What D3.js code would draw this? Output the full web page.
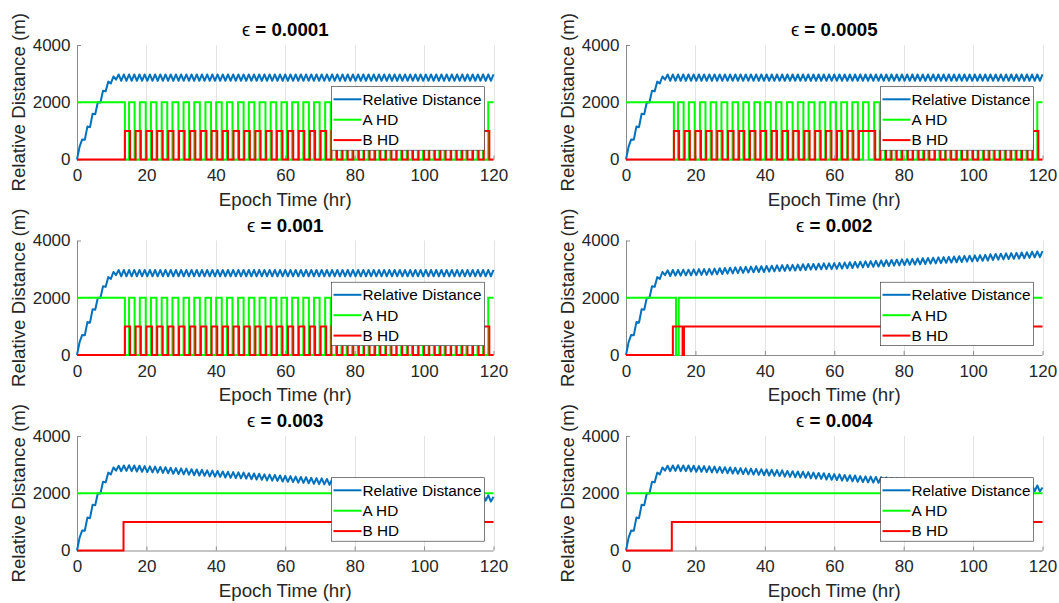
<!DOCTYPE html>
<html lang="en">
<head>
	<meta charset="UTF-8"/>
	<title>Relative Distance vs Epoch Time</title>
	<script src="https://d3js.org/d3.v7.min.js"></script>
	<style>
		body { margin: 0; background: #fff; }
		svg { font-family: "Liberation Sans", Arial, Helvetica, sans-serif; }
		.axis .domain { stroke: #8c8c8c; }
		.axis .tick line { stroke: #8c8c8c; }
		.axis .tick text { fill: #262626; font-size: 17px; }
		.grid { stroke: #e4e4e4; stroke-width: 1; }
		.lbl { fill: #262626; font-size: 18.7px; }
		.ttl { fill: #000; font-size: 18.7px; font-weight: bold; }
		.leg text { fill: #000; font-size: 15.3px; }
	</style>
</head>
<body>
<div id="chart"></div>
<script>
// ---- data ----
var epsLabels = ["0.0001", "0.0005", "0.001", "0.002", "0.003", "0.004"];
var xTicks = [0, 20, 40, 60, 80, 100, 120];
var yTicks = [0, 2000, 4000];
var seriesNames = ["Relative Distance", "A HD", "B HD"];

// sample times (hr) for the relative distance curves
var orbitT = [
	0,0.75,1.5,2.25,3,3.75,4.5,5.25,6,6.75,7.5,8.25,9,9.75,10.5,11.25,
	12,12.75,13.5,14.25,15,15.75,16.5,17.25,18,18.75,19.5,20.25,21,21.75,22.5,23.25,
	24,24.75,25.5,26.25,27,27.75,28.5,29.25,30,30.75,31.5,32.25,33,33.75,34.5,35.25,
	36,36.75,37.5,38.25,39,39.75,40.5,41.25,42,42.75,43.5,44.25,45,45.75,46.5,47.25,
	48,48.75,49.5,50.25,51,51.75,52.5,53.25,54,54.75,55.5,56.25,57,57.75,58.5,59.25,
	60,60.75,61.5,62.25,63,63.75,64.5,65.25,66,66.75,67.5,68.25,69,69.75,70.5,71.25,
	72,72.75,73.5,74.25,75,75.75,76.5,77.25,78,78.75,79.5,80.25,81,81.75,82.5,83.25,
	84,84.75,85.5,86.25,87,87.75,88.5,89.25,90,90.75,91.5,92.25,93,93.75,94.5,95.25,
	96,96.75,97.5,98.25,99,99.75,100.5,101.25,102,102.75,103.5,104.25,105,105.75,106.5,107.25,
	108,108.75,109.5,110.25,111,111.75,112.5,113.25,114,114.75,115.5,116.25,117,117.75,118.5,119.25,
	120
];

// relative distance (m), eps = 0.0001 / 0.0005 / 0.001 (same curve)
var rdSteady = [
	0,450,700,690,1150,1130,1600,1580,2000,1990,2400,2380,2720,2660,2900,2790,
	2970,2750,2970,2750,2970,2750,2970,2750,2970,2750,2970,2750,2970,2750,2970,2750,
	2970,2750,2970,2750,2970,2750,2970,2750,2970,2750,2970,2750,2970,2750,2970,2750,
	2970,2750,2970,2750,2970,2750,2970,2750,2970,2750,2970,2750,2970,2750,2970,2750,
	2970,2750,2970,2750,2970,2750,2970,2750,2970,2750,2970,2750,2970,2750,2970,2750,
	2970,2750,2970,2750,2970,2750,2970,2750,2970,2750,2970,2750,2970,2750,2970,2750,
	2970,2750,2970,2750,2970,2750,2970,2750,2970,2750,2970,2750,2970,2750,2970,2750,
	2970,2750,2970,2750,2970,2750,2970,2750,2970,2750,2970,2750,2970,2750,2970,2750,
	2970,2750,2970,2750,2970,2750,2970,2750,2970,2750,2970,2750,2970,2750,2970,2750,
	2970,2750,2970,2750,2970,2750,2970,2750,2970,2750,2970,2750,2970,2750,2970,2750,
	2970
];
// eps = 0.002
var rd0002 = [
	0,450,700,690,1150,1130,1600,1580,2000,1990,2400,2380,2720,2660,2900,2790,
	2960,2760,2970,2770,2970,2770,2980,2780,2980,2780,2990,2790,3000,2800,3000,2800,
	3010,2810,3020,2820,3030,2830,3040,2840,3050,2850,3060,2860,3070,2870,3080,2880,
	3090,2890,3100,2900,3100,2900,3110,2910,3120,2920,3130,2930,3140,2940,3150,2950,
	3150,2950,3160,2960,3170,2970,3180,2980,3180,2980,3190,2990,3200,3000,3200,3000,
	3210,3010,3220,3020,3230,3030,3240,3040,3250,3050,3260,3060,3270,3070,3280,3080,
	3290,3090,3300,3100,3310,3110,3320,3120,3330,3130,3340,3140,3350,3150,3360,3160,
	3370,3170,3380,3180,3390,3190,3400,3200,3410,3210,3420,3220,3430,3230,3440,3240,
	3450,3250,3460,3260,3470,3270,3480,3280,3490,3290,3500,3300,3520,3320,3530,3330,
	3540,3340,3550,3350,3560,3360,3570,3370,3580,3380,3590,3390,3610,3410,3620,3420,
	3630
];
// eps = 0.003
var rd0003 = [
	0,450,700,690,1150,1130,1600,1580,2000,1990,2400,2380,2720,2660,2900,2790,
	2960,2770,2970,2780,2980,2770,2970,2760,2960,2750,2950,2740,2940,2730,2930,2720,
	2920,2710,2910,2700,2890,2680,2880,2670,2870,2660,2860,2650,2840,2630,2830,2620,
	2820,2610,2800,2590,2790,2580,2780,2570,2760,2550,2750,2540,2740,2530,2730,2520,
	2720,2510,2700,2490,2690,2480,2680,2470,2660,2450,2650,2440,2640,2430,2620,2410,
	2610,2400,2600,2390,2580,2370,2570,2360,2560,2350,2540,2330,2530,2320,2520,2310,
	2500,2290,2490,2280,2480,2270,2460,2250,2450,2240,2430,2220,2420,2210,2410,2200,
	2390,2180,2380,2170,2360,2150,2350,2140,2330,2120,2310,2100,2300,2090,2280,2070,
	2260,2050,2250,2040,2230,2020,2210,2000,2190,1980,2170,1960,2150,1940,2130,1920,
	2120,1910,2100,1880,2070,1850,2040,1830,2020,1800,1990,1770,1960,1740,1930,1710,
	1880
];
// eps = 0.004
var rd0004 = [
	0,450,700,690,1150,1130,1600,1580,2000,1990,2400,2380,2720,2660,2900,2790,
	2960,2770,2970,2780,2980,2770,2970,2770,2970,2760,2960,2750,2950,2750,2950,2740,
	2940,2730,2930,2720,2920,2710,2910,2700,2900,2690,2890,2680,2880,2670,2870,2660,
	2860,2650,2850,2640,2840,2630,2830,2620,2820,2610,2810,2600,2800,2580,2780,2570,
	2770,2560,2760,2550,2750,2540,2740,2520,2720,2510,2710,2500,2700,2480,2680,2470,
	2670,2460,2660,2440,2640,2430,2630,2420,2620,2400,2600,2390,2590,2380,2580,2370,
	2570,2360,2560,2350,2550,2330,2530,2320,2520,2310,2510,2300,2500,2290,2490,2280,
	2480,2270,2470,2260,2460,2250,2450,2240,2440,2230,2430,2220,2420,2210,2410,2200,
	2400,2200,2400,2190,2390,2180,2380,2170,2370,2160,2360,2150,2350,2140,2340,2130,
	2330,2120,2320,2110,2310,2100,2300,2100,2300,2090,2290,2080,2280,2070,2270,2060,
	2200
];

// A HD / B HD switching times (hr); A starts at 2000, B starts at 0
var aHdLevels = [2000, 0];
var bHdLevels = [0, 1000];
var aEdgesFast = [13.8, 15.0,16.6, 18.1,19.8, 21.3,22.9, 24.4,26.0, 27.5,29.2, 30.7,32.3,
	33.8,35.4, 37.0,38.6, 40.1,41.7, 43.2,44.8, 46.4,48.0, 49.5,51.1, 52.6,54.3, 55.8,57.4,
	58.9,60.5, 62.0,63.7, 65.2,66.8, 68.3,69.9, 71.5,73.1, 74.6,76.2, 77.7,79.3, 80.9,82.5,
	84.0,85.6, 87.1,88.8, 90.3,91.9, 93.4,95.0, 96.5,98.2, 99.7,101.3, 102.8,104.4, 105.9,107.6,
	109.1,110.7, 112.2,113.8, 115.4,117.0, 118.5];
var bEdgesFast = [13.8, 15.3,16.9, 18.4,20.0, 21.6,23.1, 24.7,26.3, 27.8,29.4, 31.0,32.6,
	34.1,35.7, 37.3,38.8, 40.4,42.0, 43.5,45.1, 46.7,48.2, 49.8,51.4, 52.9,54.5, 56.1,57.6,
	59.2,60.8, 62.3,63.9, 65.5,67.1, 68.6,70.2, 71.8,73.3, 74.9,76.5, 78.0,79.6, 81.2,82.7,
	84.3,85.9, 87.4,89.0, 90.6,92.1, 93.7,95.3, 96.8,98.4, 100.0,101.5, 103.1,104.7, 106.2,107.8,
	109.4,111.0, 112.5,114.1, 115.7,117.2, 118.8];
// eps = 0.0005: B HD holds high from about 67 to 72 hr
var bEdges0005 = [13.8, 15.3,16.9, 18.4,20.0, 21.6,23.1, 24.7,26.3, 27.8,29.4, 31.0,32.6,
	34.1,35.7, 37.3,38.8, 40.4,42.0, 43.5,45.1, 46.7,48.2, 49.8,51.4, 52.9,54.5, 56.1,57.6,
	59.2,60.8, 62.3,63.9, 65.5,67.1, 71.8,73.3, 74.9,76.5, 78.0,79.6, 81.2,82.7,
	84.3,85.9, 87.4,89.0, 90.6,92.1, 93.7,95.3, 96.8,98.4, 100.0,101.5, 103.1,104.7, 106.2,107.8,
	109.4,111.0, 112.5,114.1, 115.7,117.2, 118.8];
var aEdges0002 = [14.4, 15.2];
var bEdges0002 = [13.5, 16.3, 16.7];
var aEdges0003 = [];
var bEdges0003 = [13.4];
var aEdges0004 = [];
var bEdges0004 = [13.2];

var panels = [
	{ eps: epsLabels[0], rd: rdSteady, a: aEdgesFast, b: bEdgesFast },
	{ eps: epsLabels[1], rd: rdSteady, a: aEdgesFast, b: bEdges0005 },
	{ eps: epsLabels[2], rd: rdSteady, a: aEdgesFast, b: bEdgesFast },
	{ eps: epsLabels[3], rd: rd0002, a: aEdges0002, b: bEdges0002 },
	{ eps: epsLabels[4], rd: rd0003, a: aEdges0003, b: bEdges0003 },
	{ eps: epsLabels[5], rd: rd0004, a: aEdges0004, b: bEdges0004 }
];

// ---- layout ----
var W = 1059, H = 603;
var colX = [77, 626];
var rowY = [45, 240.5, 436];
var pw = 416.5, ph = 114.5;
var colors = ["#0072BD", "#00FF00", "#FF0000"];

var svg = d3.select("#chart").append("svg")
	.attr("width", W)
	.attr("height", H);

function stepPoints(edges, levels) {
	var v = 0;
	var pts = [[0, levels[0]]];
	edges.forEach(function (t) {
		v = 1 - v;
		pts.push([t, levels[v]]);
	});
	pts.push([xTicks[xTicks.length - 1], levels[v]]);
	return pts;
}

panels.forEach(function (p, i) {
	var col = i % 2, row = Math.floor(i / 2);
	var x0 = colX[col], y0 = rowY[row];

	var xScale = d3.scaleLinear()
		.domain([xTicks[0], xTicks[xTicks.length - 1]])
		.range([0, pw]);
	var yScale = d3.scaleLinear()
		.domain([yTicks[0], yTicks[yTicks.length - 1]])
		.range([ph, 0]);

	var g = svg.append("g").attr("transform", "translate(" + x0 + "," + y0 + ")");

	// vertical grid
	g.selectAll(".grid")
		.data(xTicks)
		.enter()
		.append("line")
		.attr("class", "grid")
		.attr("x1", function (d) { return Math.round(xScale(d)) + 0.5; })
		.attr("x2", function (d) { return Math.round(xScale(d)) + 0.5; })
		.attr("y1", 0)
		.attr("y2", ph);

	g.append("g")
		.attr("class", "axis")
		.attr("transform", "translate(0," + ph + ")")
		.call(d3.axisBottom(xScale).tickValues(xTicks).tickSizeInner(-4).tickSizeOuter(0).tickPadding(9.5))
		.call(function (a) { a.select(".domain").remove(); });

	g.append("g")
		.attr("class", "axis")
		.call(d3.axisLeft(yScale).tickValues(yTicks).tickFormat(d3.format("d"))
			.tickSizeInner(-4).tickSizeOuter(0).tickPadding(6.5));

	g.append("line")
		.attr("x1", 0).attr("x2", pw)
		.attr("y1", ph + 0.5).attr("y2", ph + 0.5)
		.attr("stroke", "#8c8c8c");

	var line = d3.line()
		.x(function (d) { return xScale(d[0]); })
		.y(function (d) { return yScale(d[1]); });
	var stepLine = d3.line()
		.x(function (d) { return xScale(d[0]); })
		.y(function (d) { return yScale(d[1]); })
		.curve(d3.curveStepAfter);

	g.append("path")
		.datum(d3.zip(orbitT, p.rd))
		.attr("fill", "none")
		.attr("stroke", colors[0])
		.attr("stroke-width", 2)
		.attr("stroke-linejoin", "round")
		.attr("d", line);

	g.append("path")
		.datum(stepPoints(p.a, aHdLevels))
		.attr("fill", "none")
		.attr("stroke", colors[1])
		.attr("stroke-width", 2)
		.attr("d", stepLine);

	g.append("path")
		.datum(stepPoints(p.b, bHdLevels))
		.attr("fill", "none")
		.attr("stroke", colors[2])
		.attr("stroke-width", 2)
		.attr("d", stepLine);

	// title
	var t = g.append("text")
		.attr("class", "ttl")
		.attr("x", pw / 2)
		.attr("y", -9)
		.attr("text-anchor", "middle");
	t.append("tspan").attr("font-weight", "normal").text("\u03F5");
	t.append("tspan").text(" = " + p.eps);

	// axis labels
	g.append("text")
		.attr("class", "lbl")
		.attr("x", pw / 2)
		.attr("y", ph + 46)
		.attr("text-anchor", "middle")
		.text("Epoch Time (hr)");
	g.append("text")
		.attr("class", "lbl")
		.attr("transform", "translate(-52," + (ph / 2) + ") rotate(-90)")
		.attr("text-anchor", "middle")
		.text("Relative Distance (m)");

	// legend
	var lw = 153, lh = 63.5;
	var leg = g.append("g")
		.attr("class", "leg")
		.attr("transform", "translate(" + (pw - 9 - lw) + ",41.7)");
	leg.append("rect")
		.attr("width", lw)
		.attr("height", lh)
		.attr("fill", "#fff")
		.attr("stroke", "#262626")
		.attr("stroke-width", 0.6);
	var items = leg.selectAll(".item")
		.data(seriesNames)
		.enter()
		.append("g")
		.attr("class", "item")
		.attr("transform", function (d, k) { return "translate(0," + (12.6 + k * 20.4) + ")"; });
	items.append("line")
		.attr("x1", 2).attr("x2", 30)
		.attr("stroke", function (d, k) { return colors[k]; })
		.attr("stroke-width", 2);
	items.append("text")
		.attr("x", 31)
		.attr("dy", "0.35em")
		.text(function (d) { return d; });
});
</script>
</body>
</html>
